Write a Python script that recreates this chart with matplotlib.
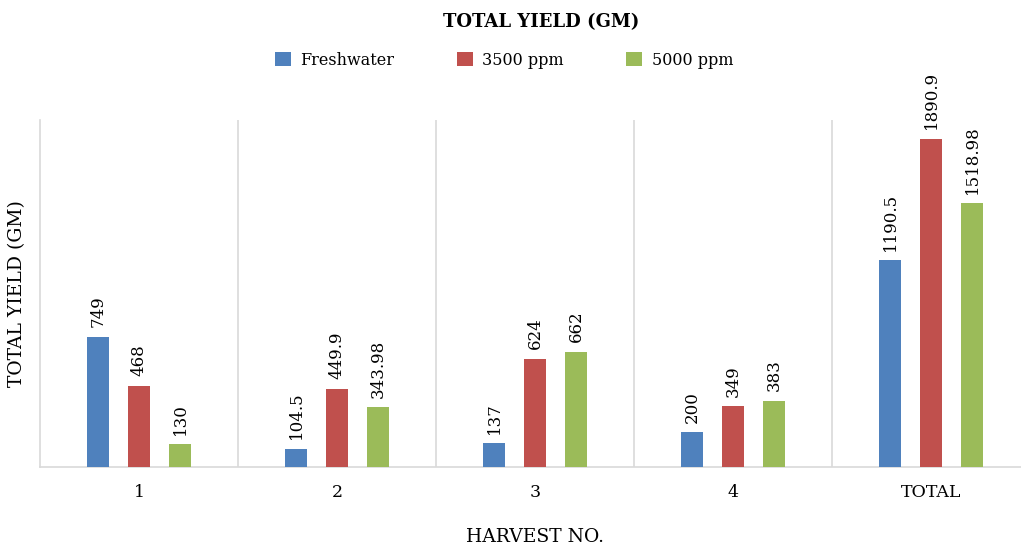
import numpy as np
import matplotlib
matplotlib.use('Agg')
import matplotlib.pyplot as plt

# data
categories = ['1', '2', '3', '4', 'TOTAL']
series = ['Freshwater', '3500 ppm', '5000 ppm']
freshwater = [749, 104.5, 137, 200, 1190.5]
ppm3500 = [468, 449.9, 624, 349, 1890.9]
ppm5000 = [130, 343.98, 662, 383, 1518.98]
colors = ['#4F81BD', '#C0504D', '#9BBB59']

plt.rcParams['font.family'] = ['DejaVu Serif']

fig = plt.figure(figsize=(10.21, 5.46), dpi=100)
ax = fig.add_axes([40/1021, (546-467)/546, 990/1021, 347/546])

x = np.arange(len(categories))
w = 0.107
step = 0.207
for i, (vals, name, c) in enumerate(zip([freshwater, ppm3500, ppm5000], series, colors)):
    pos = x + (i - 1) * step
    ax.bar(pos, vals, width=w, color=c, label=name, zorder=3)
    for p, v in zip(pos, vals):
        ax.annotate(f'{v:g}', (p, v), xytext=(0, 7), textcoords='offset points',
                    rotation=90, ha='center', va='bottom', fontsize=12)

ax.set_xlim(-0.5, len(categories) - 0.5)
ax.set_ylim(0, 2000)
ax.set_yticks([])
ax.set_xticks(x)
ax.set_xticklabels(categories, fontsize=12.5)
ax.set_xticks(np.arange(0.5, len(categories) - 0.5), minor=True)
ax.tick_params(axis='x', which='both', length=0, pad=12)
ax.grid(axis='x', which='minor', color='#d9d9d9', linewidth=1.2, zorder=0)
for s in ['top', 'right']:
    ax.spines[s].set_visible(False)
ax.spines['left'].set_color('#d9d9d9')
ax.spines['bottom'].set_color('#d9d9d9')
ax.spines['left'].set_linewidth(1.2)
ax.spines['bottom'].set_linewidth(1.2)

ax.set_ylabel('TOTAL YIELD (GM)', fontsize=13.5, labelpad=10)
ax.set_xlabel('HARVEST NO.', fontsize=13.5, labelpad=20)

fig.text(541/1021, 1 - 22/546, 'TOTAL YIELD (GM)', ha='center', va='center',
         fontsize=13, fontweight='bold')
fig.legend(loc='center', bbox_to_anchor=(504/1021, 1 - 60/546), ncol=3, frameon=False,
           fontsize=11.5, handlelength=1.0, handleheight=1.0, columnspacing=3.9, handletextpad=0.6)

fig.savefig('out.png', dpi=100)
